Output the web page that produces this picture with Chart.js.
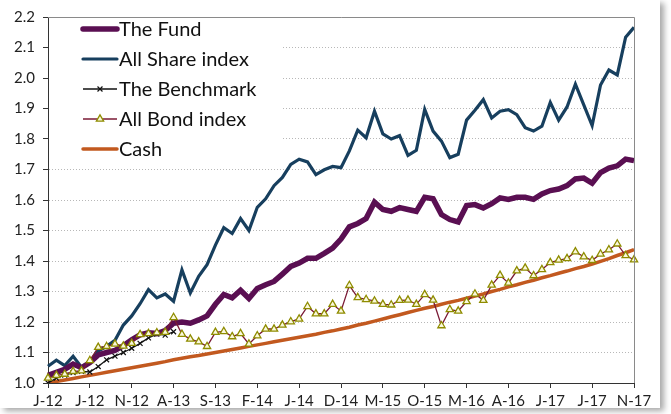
<!DOCTYPE html>
<html>
<head>
<meta charset="utf-8">
<script src="https://cdn.jsdelivr.net/npm/chart.js@4.4.0/dist/chart.umd.min.js"></script>
<style>
  html, body { margin:0; padding:0; background:#fff; }
  #wrap { position:absolute; left:0; top:0; width:660px; height:408px; background:#fff;
          box-shadow: 4px 3px 6px rgba(0,0,0,0.35); }
  canvas { display:block; }
</style>
</head>
<body>
<div id="wrap"><canvas id="chart" width="660" height="408"></canvas></div>
<script>
// Monthly, Jan 2012 .. Nov 2017 (71 months); every 5th month is labelled
const monthInitials = ['J','F','M','A','M','J','J','A','S','O','N','D'];
const months = [];
for (let y = 12; y <= 17; y++) {
  for (let m = 0; m < 12; m++) {
    if (y === 17 && m > 10) break;
    months.push(monthInitials[m] + '-' + y);
  }
}

const fund = [1.025,1.035,1.045,1.062,1.050,1.067,1.092,1.100,1.107,1.122,
  1.142,1.158,1.165,1.162,1.172,1.196,1.200,1.196,1.207,1.220,
  1.258,1.290,1.279,1.304,1.277,1.310,1.322,1.333,1.357,1.382,
  1.393,1.409,1.409,1.425,1.442,1.472,1.512,1.523,1.539,1.593,
  1.569,1.563,1.575,1.569,1.563,1.609,1.604,1.552,1.536,1.528,
  1.582,1.585,1.574,1.588,1.607,1.602,1.609,1.609,1.602,1.620,
  1.631,1.636,1.647,1.669,1.672,1.655,1.690,1.705,1.712,1.734,1.729];

const allShare = [1.055,1.075,1.057,1.088,1.052,1.070,1.105,1.120,1.140,1.190,
  1.220,1.260,1.306,1.279,1.292,1.268,1.371,1.295,1.350,1.388,
  1.452,1.509,1.490,1.539,1.500,1.576,1.604,1.647,1.674,1.717,
  1.734,1.725,1.683,1.699,1.710,1.706,1.761,1.829,1.804,1.891,
  1.817,1.800,1.811,1.746,1.763,1.897,1.826,1.793,1.739,1.750,
  1.862,1.894,1.929,1.869,1.891,1.896,1.880,1.837,1.826,1.842,
  1.920,1.862,1.905,1.980,1.912,1.844,1.977,2.026,2.010,2.134,2.166];

const benchmark = [1.000,1.016,1.026,1.034,1.038,1.036,1.054,1.076,1.088,1.100,
  1.114,1.130,1.148,1.160,1.157,1.168];

const bond = [1.016,1.025,1.029,1.038,1.040,1.074,1.117,1.120,1.128,1.121,
  1.130,1.159,1.162,1.165,1.166,1.215,1.160,1.144,1.135,1.120,
  1.166,1.169,1.152,1.162,1.128,1.155,1.177,1.177,1.190,1.201,
  1.210,1.251,1.227,1.227,1.258,1.236,1.320,1.280,1.274,1.269,
  1.258,1.256,1.271,1.272,1.258,1.290,1.272,1.188,1.241,1.236,
  1.267,1.292,1.271,1.321,1.353,1.328,1.368,1.377,1.352,1.372,
  1.395,1.403,1.408,1.430,1.414,1.402,1.423,1.437,1.456,1.418,1.404];

const cash = [1.000,1.005,1.010,1.015,1.020,1.025,1.030,1.035,1.040,1.045,
  1.050,1.055,1.060,1.065,1.070,1.076,1.081,1.086,1.090,1.095,
  1.100,1.105,1.110,1.115,1.120,1.125,1.130,1.135,1.140,1.145,
  1.150,1.155,1.160,1.166,1.171,1.177,1.183,1.190,1.196,1.203,
  1.210,1.217,1.224,1.231,1.238,1.245,1.251,1.258,1.265,1.271,
  1.278,1.285,1.292,1.300,1.307,1.315,1.322,1.330,1.337,1.345,
  1.352,1.360,1.367,1.375,1.382,1.390,1.399,1.408,1.418,1.427,1.437];

const FONT = 'Lato, "Open Sans", sans-serif';

const datasets = [
  {label:'All Bond index', data: bond, borderColor:'#7a1a35', borderWidth:1.3,
   pointStyle:'triangle', pointRadius:4.2, pointBorderColor:'#8f8c00', pointBackgroundColor:'#faf8dc',
   pointBorderWidth:1.3, order:1},
  {label:'The Benchmark', data: benchmark, borderColor:'#111', borderWidth:1.3,
   pointStyle:'crossRot', pointRadius:3.5, pointBorderColor:'#111', pointBorderWidth:1.2, order:2},
  {label:'Cash', data: cash, borderColor:'#c2591f', borderWidth:3.5, pointRadius:0, order:3},
  {label:'The Fund', data: fund, borderColor:'#5a0f52', borderWidth:5.5, pointRadius:0, order:4},
  {label:'All Share index', data: allShare, borderColor:'#173f5e', borderWidth:3.2, pointRadius:0, order:5}
];

const legendOrder = ['The Fund','All Share index','The Benchmark','All Bond index','Cash'];

const insideLegend = {
  id:'insideLegend',
  afterDatasetsDraw(chart){
    const ctx = chart.ctx;
    const a = chart.chartArea;
    ctx.save();
    ctx.fillStyle = '#fff';
    ctx.fillRect(a.left + 1, a.top + 1, 232, 146);
    ctx.font = '20px ' + FONT;
    ctx.textBaseline = 'middle';
    legendOrder.forEach((name, i) => {
      const ds = chart.data.datasets.find(d => d.label === name);
      const y = 29 + i * 30;
      const x0 = 83, x1 = 117;
      ctx.strokeStyle = ds.borderColor;
      ctx.lineWidth = ds.borderWidth;
      ctx.lineCap = ds.borderWidth > 3 ? 'round' : 'butt';
      ctx.beginPath(); ctx.moveTo(x0, y); ctx.lineTo(x1, y); ctx.stroke();
      if (ds.pointRadius) {
        ctx.fillStyle = ds.pointBackgroundColor || 'transparent';
        ctx.strokeStyle = ds.pointBorderColor;
        ctx.lineWidth = ds.pointBorderWidth;
        ctx.beginPath();
        Chart.helpers.drawPoint(ctx, {
          pointStyle: ds.pointStyle, radius: ds.pointRadius, borderWidth: ds.pointBorderWidth, rotation:0
        }, (x0 + x1) / 2, y);
      }
      ctx.fillStyle = '#111';
      ctx.fillText(name, 119, y + 1);
    });
    ctx.restore();
  },
  afterDraw(chart){
    const ctx = chart.ctx;
    const a = chart.chartArea;
    ctx.save();
    ctx.strokeStyle = '#8a8a8a';
    ctx.lineWidth = 1;
    ctx.beginPath();
    ctx.moveTo(a.left, a.top + 0.5); ctx.lineTo(a.right + 0.5, a.top + 0.5);
    ctx.lineTo(a.right + 0.5, a.bottom);
    ctx.stroke();
    ctx.restore();
  }
};

new Chart(document.getElementById('chart'), {
  type:'line',
  data:{ labels: months, datasets },
  options:{
    responsive:false,
    animation:false,
    devicePixelRatio:1,
    layout:{ padding:{ top:13, right:26, left:0, bottom:0 } },
    elements:{ line:{ tension:0, fill:false }, point:{ hoverRadius:0 } },
    plugins:{ legend:{ display:false }, tooltip:{ enabled:false } },
    scales:{
      x:{
        offset:false,
        afterFit(s){ s.height = 25; },
        grid:{ drawOnChartArea:false, drawTicks:true, tickLength:5,
               tickColor: c => (c.index % 5 === 0 ? '#333' : 'rgba(0,0,0,0)') },
        border:{ color:'#333', width:1 },
        ticks:{ autoSkip:false, maxRotation:0, padding:4, color:'#222',
                font:{ family:FONT, size:15 },
                callback(v, i){ return i % 5 === 0 ? months[i] : ''; } }
      },
      y:{
        min:1.0, max:2.2,
        afterFit(s){ s.width = 48; },
        grid:{ color:'#b8b8b8', lineWidth:1, drawTicks:true, tickLength:5, tickColor:'#333' },
        border:{ color:'#333', width:1, dash:[1,2] },
        ticks:{ stepSize:0.1, padding:8, color:'#222', font:{ family:FONT, size:15 },
                callback: v => Number(v).toFixed(1) }
      }
    }
  },
  plugins:[insideLegend]
});
</script>
</body>
</html>
